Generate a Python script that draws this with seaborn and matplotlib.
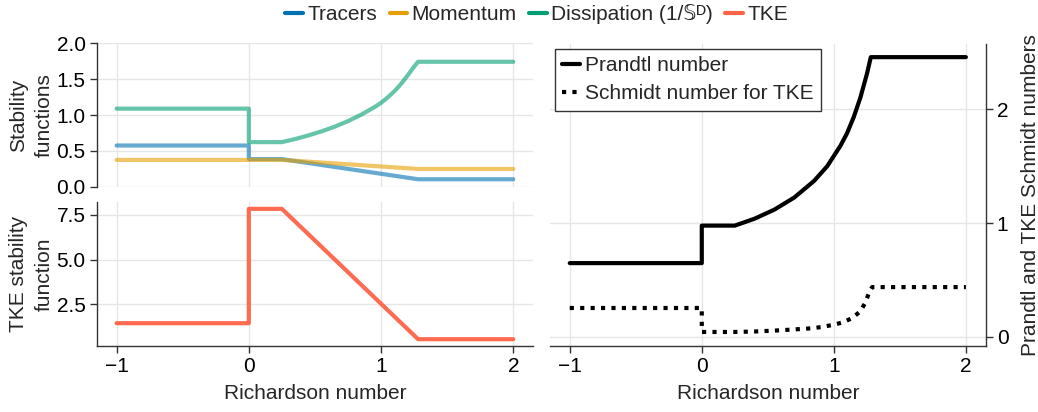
import matplotlib
matplotlib.use("Agg")
import matplotlib.pyplot as plt
from matplotlib.lines import Line2D
import pandas as pd
import seaborn as sns

# Stability functions versus Richardson number (piecewise; the step at Ri = 0
# is given as a repeated abscissa).
ri_tracers = [-1.0, 0.0, 0.0, 0.25, 1.28, 2.0]
tracers = [0.575, 0.575, 0.385, 0.385, 0.104, 0.104]

ri_momentum = [-1.0, 0.0, 0.25, 1.28, 2.0]
momentum = [0.374, 0.374, 0.374, 0.248, 0.248]

ri_dissipation = [-1.0, 0.0, 0.0, 0.25, 0.35, 0.45, 0.55, 0.65, 0.75, 0.85,
                  0.95, 1.0, 1.05, 1.1, 1.15, 1.2, 1.25, 1.28, 2.0]
dissipation = [1.089, 1.089, 0.622, 0.622, 0.665, 0.715, 0.772, 0.838, 0.915,
               1.005, 1.11, 1.17, 1.245, 1.33, 1.43, 1.55, 1.675, 1.743,
               1.743]

ri_tke = [-1.0, 0.0, 0.0, 0.25, 1.28, 2.0]
tke = [1.436, 1.436, 7.84, 7.84, 0.54, 0.54]

# Prandtl number and Schmidt number for TKE
ri_prandtl = [-1.0, 0.0, 0.0, 0.25, 0.4, 0.55, 0.7, 0.85, 0.95, 1.05, 1.1,
              1.15, 1.2, 1.25, 1.28, 2.0]
prandtl = [0.647, 0.647, 0.977, 0.977, 1.038, 1.118, 1.224, 1.37, 1.5, 1.68,
           1.79, 1.93, 2.1, 2.31, 2.46, 2.46]

ri_schmidt = [-1.0, 0.0, 0.0, 0.25, 0.4, 0.55, 0.67, 0.83, 0.91, 1.0, 1.07,
              1.14, 1.2, 1.24, 1.267, 1.29, 2.0]
schmidt = [0.252, 0.252, 0.041, 0.041, 0.045, 0.053, 0.061, 0.073, 0.085,
           0.105, 0.126, 0.164, 0.222, 0.301, 0.389, 0.436, 0.436]

labels = ["Tracers", "Momentum", "Dissipation (1/\U0001D54A\u1D30)", "TKE"]
colors = ["#0072B2", "#E69F00", "#009E73", "#FF6347"]

FS = 15

sns.set_theme(style="whitegrid")
plt.rcParams["font.family"] = ["Liberation Sans", "DejaVu Sans"]
plt.rcParams["font.size"] = FS
plt.rcParams["axes.unicode_minus"] = True

fig = plt.figure(figsize=(10.38, 4.12), dpi=100)
fig.patch.set_facecolor("white")
ax_s = fig.add_axes([0.0932, 0.5468, 0.4204, 0.348])
ax_e = fig.add_axes([0.0932, 0.1609, 0.4204, 0.348])
ax_p = fig.add_axes([0.5298, 0.1609, 0.4198, 0.7335])

spine_col = "#333333"
for ax in (ax_s, ax_e, ax_p):
    ax.set_facecolor("white")
    ax.grid(True, color="#e6e6e6", linewidth=1)
    ax.set_axisbelow(True)
    for s in ax.spines.values():
        s.set_visible(False)
        s.set_color(spine_col)
        s.set_linewidth(1)
    ax.tick_params(axis="both", direction="out", length=5, width=1,
                   color=spine_col, labelsize=FS, labelcolor="black", pad=3)
    ax.set_xlim(-1.15, 2.15)
    ax.set_xticks([-1, 0, 1, 2])


def draw(ax, x, y, **kw):
    df = pd.DataFrame({"Ri": x, "v": y})
    sns.lineplot(data=df, x="Ri", y="v", ax=ax, estimator=None, sort=False,
                 legend=False, **kw)


draw(ax_s, ri_tracers, tracers, color=colors[0], alpha=0.6, linewidth=3)
draw(ax_s, ri_momentum, momentum, color=colors[1], alpha=0.6, linewidth=3)
draw(ax_s, ri_dissipation, dissipation, color=colors[2], alpha=0.6, linewidth=3)
draw(ax_e, ri_tke, tke, color=colors[3], alpha=0.95, linewidth=3)

draw(ax_p, ri_prandtl, prandtl, color="black", linewidth=3)
draw(ax_p, ri_schmidt, schmidt, color="black", linewidth=3,
     linestyle=(0, (1, 1.5)))

# Upper left: stability functions
ax_s.set_ylim(0, 2)
ax_s.set_yticks([0, 0.5, 1.0, 1.5, 2.0])
ax_s.spines["left"].set_visible(True)
ax_s.tick_params(axis="x", bottom=False, labelbottom=False)
ax_s.tick_params(axis="y", left=True)
ax_s.set_xlabel("")
ax_s.set_ylabel("Stability\nfunctions", fontsize=FS, linespacing=1.45,
                labelpad=2)

# Lower left: TKE stability function
ax_e.set_ylim(0.175, 8.205)
ax_e.set_yticks([2.5, 5.0, 7.5])
ax_e.spines["left"].set_visible(True)
ax_e.spines["bottom"].set_visible(True)
ax_e.tick_params(axis="both", left=True, bottom=True)
ax_e.set_xlabel("Richardson number", fontsize=FS, labelpad=6)
ax_e.set_ylabel("TKE stability\nfunction", fontsize=FS, linespacing=1.45,
                labelpad=2)

# Right: Prandtl and Schmidt numbers
ax_p.set_ylim(-0.08, 2.58)
ax_p.set_yticks([0, 1, 2])
ax_p.spines["right"].set_visible(True)
ax_p.spines["bottom"].set_visible(True)
ax_p.yaxis.tick_right()
ax_p.yaxis.set_label_position("right")
ax_p.tick_params(axis="both", right=True, left=False, bottom=True)
ax_p.set_xlabel("Richardson number", fontsize=FS, labelpad=6)
ax_p.set_ylabel("Prandtl and TKE Schmidt numbers", fontsize=FS, rotation=90,
                labelpad=9)

fig.align_ylabels([ax_s, ax_e])

# Legends
top_handles = [Line2D([], [], color=c, linewidth=3) for c in colors]
fig.legend(top_handles, labels, loc="upper center",
           bbox_to_anchor=(0.517, 1.035), ncol=4, frameon=False,
           handlelength=0.85, handletextpad=0.2, columnspacing=0.6,
           fontsize=FS)

p_handles = [Line2D([], [], color="black", linewidth=3),
             Line2D([], [], color="black", linewidth=3,
                    linestyle=(0, (1, 1.5)))]
leg = ax_p.legend(p_handles, ["Prandtl number", "Schmidt number for TKE"],
                  loc="upper left", bbox_to_anchor=(0.0, 1.0),
                  borderaxespad=0.25, frameon=True, fancybox=False,
                  edgecolor=spine_col, framealpha=1, handlelength=0.85,
                  handletextpad=0.25, borderpad=0.35, labelspacing=0.45,
                  fontsize=FS)
leg.get_frame().set_linewidth(1)

fig.savefig("out.png", dpi=100, facecolor="white")
